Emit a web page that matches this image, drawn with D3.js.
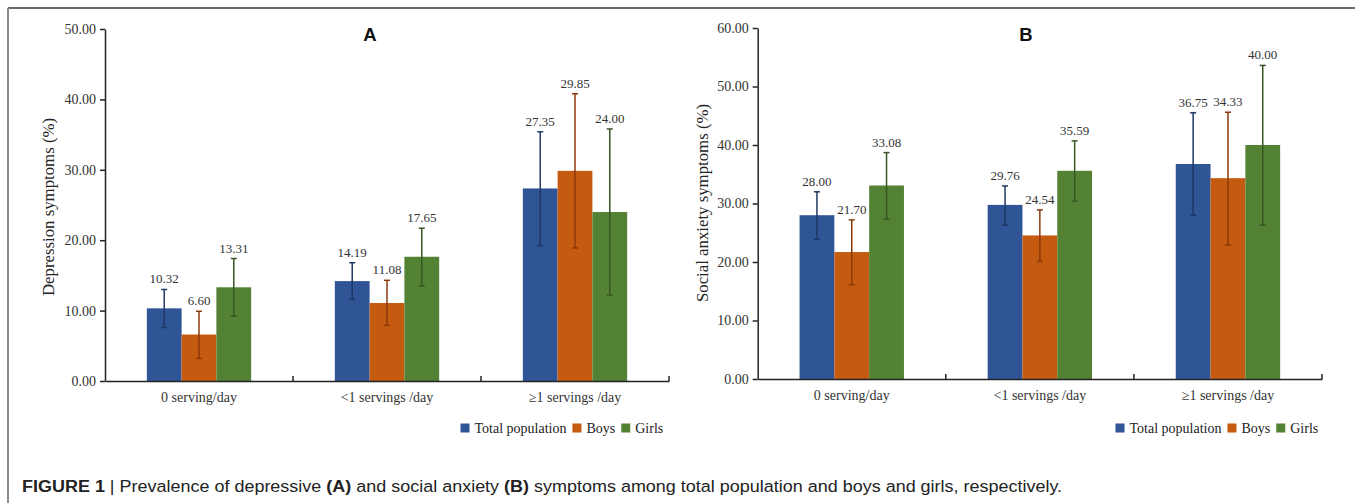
<!DOCTYPE html>
<html>
<head>
<meta charset="utf-8">
<script src="https://cdn.jsdelivr.net/npm/d3@7"></script>
<style>
  body { margin: 0; background: #fff; }
  svg { display: block; }
</style>
</head>
<body>
<div id="chart"></div>
<script>
// ---- data ----
const categories = ["0 serving/day", "<1 servings /day", "\u22651 servings /day"];
const groups = ["Total population", "Boys", "Girls"];

// A: depression symptoms (%)
const depValues = [[10.32, 6.60, 13.31], [14.19, 11.08, 17.65], [27.35, 29.85, 24.00]];
const depLow    = [[7.6, 3.2, 9.2], [11.6, 7.9, 13.5], [19.2, 18.9, 12.2]];
const depHigh   = [[13.0, 9.9, 17.4], [16.8, 14.3, 21.7], [35.4, 40.8, 35.8]];
const depTicks  = [0, 10, 20, 30, 40, 50];

// B: social anxiety symptoms (%)
const anxValues = [[28.00, 21.70, 33.08], [29.76, 24.54, 35.59], [36.75, 34.33, 40.00]];
const anxLow    = [[23.9, 16.1, 27.3], [26.3, 20.1, 30.4], [28.0, 22.9, 26.3]];
const anxHigh   = [[32.0, 27.2, 38.7], [33.0, 28.9, 40.7], [45.5, 45.6, 53.6]];
const anxTicks  = [0, 10, 20, 30, 40, 50, 60];

const barColors = ["#2F5597", "#C55A11", "#548235"];
const errColors = ["#1F3864", "#8C3A0C", "#375623"];

const W = 1355, H = 503;
const serif = "'Liberation Serif', 'Times New Roman', serif";
const sans = "'Liberation Sans', Arial, sans-serif";

const svg = d3.select("#chart").append("svg")
  .attr("width", W).attr("height", H);

// frame (top + left rule)
svg.append("line").attr("x1", 8).attr("x2", W).attr("y1", 8).attr("y2", 8)
  .attr("stroke", "#6b6b6b").attr("stroke-width", 2);
svg.append("line").attr("x1", 8).attr("x2", 8).attr("y1", 8).attr("y2", H)
  .attr("stroke", "#8a8a8a").attr("stroke-width", 2);

function panel(opt) {
  const g = svg.append("g");

  const x0 = d3.scaleBand().domain(categories).range([opt.left, opt.right]).paddingInner(0);
  const bw = x0.bandwidth();
  const x1 = d3.scaleBand().domain(groups).range([bw * 0.2225, bw * 0.7775]);
  const y = d3.scaleLinear().domain([0, d3.max(opt.ticks)]).range([opt.bottom, opt.top]);

  const rows = [];
  categories.forEach((c, i) => groups.forEach((s, j) => rows.push({
    cat: c, grp: s, j,
    v: opt.values[i][j], lo: opt.low[i][j], hi: opt.high[i][j]
  })));

  // bars
  g.selectAll("rect.bar").data(rows).enter().append("rect")
    .attr("class", "bar")
    .attr("x", d => x0(d.cat) + x1(d.grp))
    .attr("width", x1.bandwidth())
    .attr("y", d => y(d.v))
    .attr("height", d => y(0) - y(d.v))
    .attr("fill", d => barColors[d.j]);

  // error bars
  const eb = g.selectAll("g.err").data(rows).enter().append("g")
    .attr("transform", d => `translate(${x0(d.cat) + x1(d.grp) + x1.bandwidth() / 2},0)`)
    .attr("stroke", d => errColors[d.j]).attr("stroke-width", 1.5);
  eb.append("line").attr("y1", d => y(d.lo)).attr("y2", d => y(d.hi));
  eb.append("line").attr("x1", -3).attr("x2", 3).attr("y1", d => y(d.lo)).attr("y2", d => y(d.lo));
  eb.append("line").attr("x1", -3).attr("x2", 3).attr("y1", d => y(d.hi)).attr("y2", d => y(d.hi));

  // value labels
  g.selectAll("text.val").data(rows).enter().append("text")
    .attr("x", d => x0(d.cat) + x1(d.grp) + x1.bandwidth() / 2)
    .attr("y", d => y(d.hi) - 6)
    .attr("text-anchor", "middle")
    .style("font-family", serif).style("font-size", "13px").style("fill", "#333")
    .text(d => d.v.toFixed(2));

  // y axis
  const ya = g.append("g").attr("transform", `translate(${opt.left},0)`)
    .call(d3.axisLeft(y).tickValues(opt.ticks).tickFormat(d3.format(".2f"))
      .tickSize(5).tickSizeOuter(0).tickPadding(4));
  ya.select(".domain").attr("stroke", "#222").attr("stroke-width", 1.5);
  ya.selectAll(".tick line").attr("stroke", "#222").attr("stroke-width", 1.5);
  ya.selectAll("text").style("font-family", serif).style("font-size", "14px").style("fill", "#333");

  // x axis
  const xa = g.append("g").attr("transform", `translate(0,${opt.bottom})`)
    .call(d3.axisBottom(x0).tickSize(0).tickSizeOuter(0).tickPadding(11));
  xa.select(".domain").attr("stroke", "#222").attr("stroke-width", 1.5);
  xa.selectAll("text").style("font-family", serif).style("font-size", "14px").style("fill", "#333");

  // category boundary ticks (pointing up)
  g.selectAll("line.sep").data(categories).enter().append("line")
    .attr("x1", d => x0(d) + bw).attr("x2", d => x0(d) + bw)
    .attr("y1", opt.bottom).attr("y2", opt.bottom - 5)
    .attr("stroke", "#222").attr("stroke-width", 1.5);

  // y title
  g.append("text")
    .attr("transform", `translate(${opt.titleX},${opt.titleY}) rotate(-90)`)
    .attr("text-anchor", "middle").attr("dy", "0.35em")
    .style("font-family", serif).style("font-size", "16.8px").style("fill", "#222")
    .text(opt.yTitle);

  // panel letter
  g.append("text").attr("x", opt.letterX).attr("y", 41).attr("text-anchor", "middle")
    .style("font-family", sans).style("font-size", "18.5px").style("font-weight", "bold")
    .style("fill", "#111")
    .text(opt.letter);

  // legend
  const lg = g.append("g").attr("transform", `translate(${opt.legendX},${428})`);
  let lx = 0;
  groups.forEach((s, j) => {
    lg.append("rect").attr("x", lx).attr("y", -4.5).attr("width", 9).attr("height", 9)
      .attr("fill", barColors[j]);
    const t = lg.append("text").attr("x", lx + 14).attr("y", 0).attr("dy", "0.35em")
      .style("font-family", serif).style("font-size", "14px").style("fill", "#222")
      .text(s);
    lx += 14 + t.node().getComputedTextLength() + 6;
  });
}

panel({
  left: 105, right: 669, top: 29, bottom: 381,
  values: depValues, low: depLow, high: depHigh, ticks: depTicks,
  yTitle: "Depression symptoms (%)", titleX: 48, titleY: 207,
  letter: "A", letterX: 370, legendX: 460.5
});

panel({
  left: 757.7, right: 1322, top: 28, bottom: 379,
  values: anxValues, low: anxLow, high: anxHigh, ticks: anxTicks,
  yTitle: "Social anxiety symptoms (%)", titleX: 702, titleY: 203,
  letter: "B", letterX: 1026, legendX: 1115.5
});

// caption
const cap = svg.append("g");
const ct = cap.append("text").attr("x", 0).attr("y", 0)
  .style("font-family", sans).style("font-size", "17px").style("fill", "#222");
ct.append("tspan").style("font-weight", "bold").text("FIGURE 1");
ct.append("tspan").text(" | Prevalence of depressive ");
ct.append("tspan").style("font-weight", "bold").text("(A)");
ct.append("tspan").text(" and social anxiety ");
ct.append("tspan").style("font-weight", "bold").text("(B)");
ct.append("tspan").text(" symptoms among total population and boys and girls, respectively.");
const capW = ct.node().getComputedTextLength();
cap.attr("transform", `translate(22,492) scale(${1041 / capW},1)`);
</script>
</body>
</html>
